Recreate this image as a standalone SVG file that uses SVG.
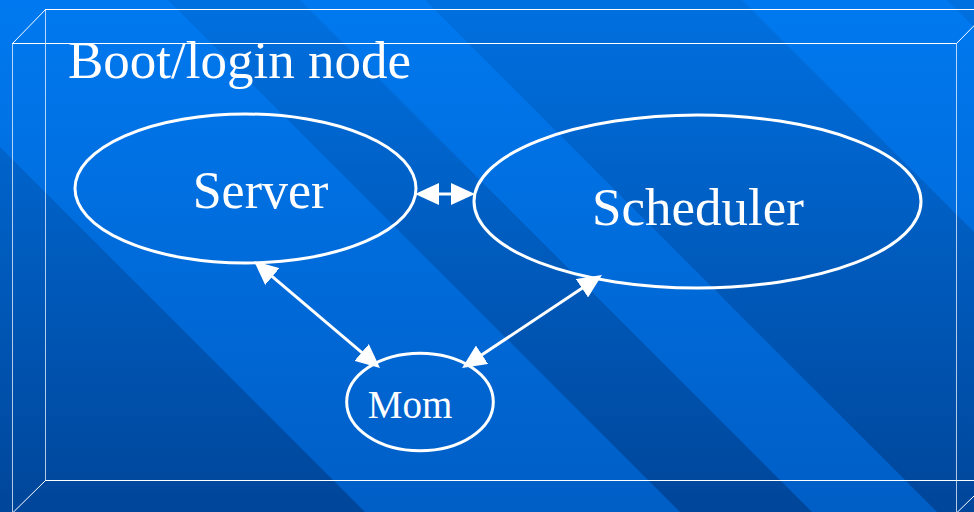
<svg xmlns="http://www.w3.org/2000/svg" width="974" height="512" viewBox="0 0 974 512">
  <defs>
    <linearGradient id="bgLight" gradientUnits="userSpaceOnUse" x1="0" y1="0" x2="0" y2="512">
      <stop offset="0" stop-color="#0079F0"/>
      <stop offset="1" stop-color="#005EC6"/>
    </linearGradient>
    <linearGradient id="bgDark" gradientUnits="userSpaceOnUse" x1="0" y1="0" x2="0" y2="512">
      <stop offset="0" stop-color="#0070E0"/>
      <stop offset="1" stop-color="#00469A"/>
    </linearGradient>
    <marker id="head" markerUnits="userSpaceOnUse" markerWidth="24" markerHeight="22" refX="10" refY="11" orient="auto-start-reverse" viewBox="0 0 24 22">
      <path d="M0,0 L24,11 L0,22 Z" fill="#FFFFFF"/>
    </marker>
  </defs>
  <style>
    .edge-h { stroke: #FFFFFF; stroke-width: 1; fill: none; }
    .edge-v { stroke: #FFFFFF; stroke-opacity: 0.7; stroke-width: 1; fill: none; }
    .node { fill: none; stroke: #FFFFFF; stroke-width: 3; }
    .label { fill: #FFFFFF; font-family: "Liberation Serif", "Times New Roman", serif; text-anchor: middle; }
    .link { stroke: #FFFFFF; stroke-width: 3; fill: none; marker-start: url(#head); marker-end: url(#head); }
  </style>

  <!-- striped background -->
  <rect x="0" y="0" width="974" height="512" fill="url(#bgLight)"/>
  <g fill="url(#bgDark)">
    <polygon points="0,147 365,512 0,512"/>
    <polygon points="168,0 300,0 812,512 680,512"/>
    <polygon points="425,0 742,0 1254,512 937,512"/>
    <polygon points="947,0 974,0 974,27"/>
  </g>

  <!-- wireframe box -->
  <g id="box">
    <line class="edge-h" x1="45" y1="9.5" x2="974" y2="9.5"/>
    <line class="edge-h" x1="45" y1="480.5" x2="974" y2="480.5"/>
    <line class="edge-v" x1="45.5" y1="9.5" x2="45.5" y2="480.5"/>
    <line class="edge-h" x1="12" y1="43.5" x2="956.5" y2="43.5"/>
    <line class="edge-v" x1="12.5" y1="43.5" x2="12.5" y2="512"/>
    <line class="edge-v" x1="956.5" y1="43.5" x2="956.5" y2="512"/>
    <line class="edge-h" x1="12.5" y1="43.5" x2="45.5" y2="9.5"/>
    <line class="edge-h" x1="956.5" y1="43.5" x2="990" y2="9.5"/>
    <line class="edge-h" x1="45.5" y1="480.5" x2="12.5" y2="513"/>
    <line class="edge-h" x1="990" y1="480.5" x2="956.5" y2="513"/>
    <text x="68" y="78" fill="#FFFFFF" font-family="'Liberation Serif', 'Times New Roman', serif" font-size="53">Boot/login node</text>
  </g>

  <!-- connectors -->
  <g id="connectors">
    <line class="link" x1="429" y1="194" x2="461" y2="194"/>
    <line class="link" x1="264.7" y1="270.1" x2="369.3" y2="358.9"/>
    <line class="link" x1="590.3" y1="282.7" x2="473.7" y2="360.3"/>
  </g>

  <g id="server">
    <ellipse class="node" cx="245.5" cy="188.5" rx="170.5" ry="74.5"/>
    <text class="label" x="260.5" y="208" font-size="52">Server</text>
  </g>

  <g id="scheduler">
    <ellipse class="node" cx="697.5" cy="201.5" rx="223.5" ry="86.5"/>
    <text class="label" x="698" y="225" font-size="53">Scheduler</text>
  </g>

  <g id="mom">
    <ellipse class="node" cx="420" cy="402" rx="73.3" ry="48.7"/>
    <text class="label" x="410" y="418" font-size="39">Mom</text>
  </g>
</svg>
